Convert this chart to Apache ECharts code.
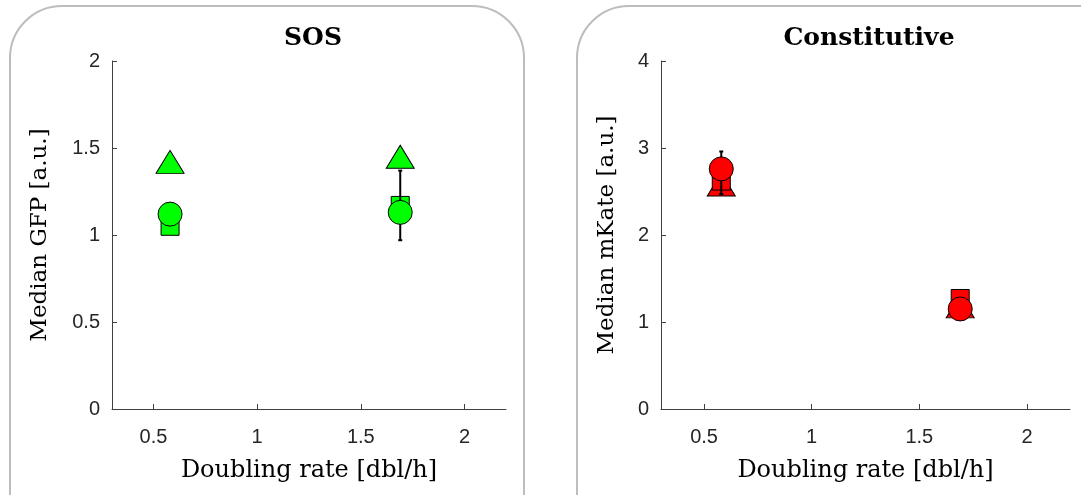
<!DOCTYPE html>
<html><head><meta charset="utf-8">
<script src="https://cdn.jsdelivr.net/npm/echarts@6/dist/echarts.min.js"></script>
<style>html,body{margin:0;padding:0;background:#fff}#c{width:1081px;height:495px}</style>
</head><body><div id="c"></div>
<script>
// ---- data ----
const rates = [0.58, 1.69];
const sosTriangle = [1.42, 1.45];
const sosSquare = [1.05, 1.17];
const sosCircle = [1.12, 1.13];
const sosErrX = [1.69];
const sosErrLow = [0.97];
const sosErrHigh = [1.37];

const constTriangle = [2.58, 1.18];
const constSquare = [2.62, 1.27];
const constCircle = [2.76, 1.15];
const constErrX = [0.58];
const constErrLow = [2.47];
const constErrHigh = [2.96];

const xTicks = [0.5, 1, 1.5, 2];
const titles = ['SOS', 'Constitutive'];
const yNames = ['Median GFP [a.u.]', 'Median mKate [a.u.]'];
const xName = 'Doubling rate [dbl/h]';

// ---- chart ----
const chart = echarts.init(document.getElementById('c'));
const serif = '"DejaVu Serif", "Liberation Serif", serif';
const sans = '"Liberation Sans", Arial, sans-serif';
const axisCol = '#404040';
const txtCol = '#262626';

function xAxis(gi){
  return {
    gridIndex: gi, type: 'value', min: 0.3, max: 2.2, interval: 0.1,
    name: xName, nameLocation: 'middle', nameGap: 50,
    nameTextStyle: {fontFamily: serif, fontSize: 24, color: '#000'},
    axisLine: {onZero: false, lineStyle: {color: axisCol, width: 1}},
    axisTick: {inside: true, length: 5, lineStyle: {color: axisCol},
      customValues: xTicks},
    axisLabel: {fontFamily: sans, fontSize: 20, color: txtCol, margin: 18,
      customValues: xTicks, formatter: v => String(v)},
    splitLine: {show: false}
  };
}
function yAxis(gi, max, interval, gap){
  return {
    gridIndex: gi, type: 'value', min: 0, max: max, interval: interval,
    name: yNames[gi], nameLocation: 'middle', nameGap: gap,
    nameTextStyle: {fontFamily: serif, fontSize: 23, color: '#000'},
    axisLine: {show: true, lineStyle: {color: axisCol, width: 1}},
    axisTick: {show: true, inside: true, length: 5, lineStyle: {color: axisCol}},
    axisLabel: {fontFamily: sans, fontSize: 20, color: txtCol, margin: 12,
      formatter: v => String(v)},
    splitLine: {show: false}
  };
}
function pts(ys){ return rates.map((x, i) => [x, ys[i]]); }
function scatter(gi, name, ys, symbol, size, color, z){
  return {
    type: 'scatter', name: name, xAxisIndex: gi, yAxisIndex: gi,
    data: pts(ys), symbol: symbol, symbolSize: size, z: z,
    itemStyle: {color: color, borderColor: '#000', borderWidth: 1, opacity: 1},
    emphasis: {disabled: true}
  };
}
function errSeries(gi, xs, lo, hi, z){
  return {
    type: 'custom', xAxisIndex: gi, yAxisIndex: gi, z: z,
    data: xs.map((x, i) => [x, lo[i], hi[i]]),
    renderItem: function(params, api){
      const a = api.coord([api.value(0), api.value(1)]);
      const b = api.coord([api.value(0), api.value(2)]);
      const cw = 2;
      const st = {stroke: '#000', lineWidth: 2};
      return {type: 'group', children: [
        {type: 'line', shape: {x1: a[0], y1: a[1], x2: b[0], y2: b[1]}, style: st},
        {type: 'line', shape: {x1: a[0]-cw, y1: a[1], x2: a[0]+cw, y2: a[1]}, style: st},
        {type: 'line', shape: {x1: b[0]-cw, y1: b[1], x2: b[0]+cw, y2: b[1]}, style: st}
      ]};
    }
  };
}

const green = '#00ff00', red = '#ff0000';
const option = {
  animation: false,
  backgroundColor: '#fff',
  graphic: [
    {type: 'rect', z: -10, shape: {x: 10, y: 6, width: 514, height: 560, r: 52},
     style: {fill: '#fff', stroke: '#bdbdbd', lineWidth: 2}},
    {type: 'rect', z: -10, shape: {x: 577, y: 6, width: 560, height: 560, r: 52},
     style: {fill: '#fff', stroke: '#bdbdbd', lineWidth: 2}}
  ],
  title: [
    {text: titles[0], left: 308, top: 21, textAlign: 'center',
     textStyle: {fontFamily: serif, fontWeight: 'bold', fontSize: 25, color: '#000'}},
    {text: titles[1], left: 864, top: 21, textAlign: 'center',
     textStyle: {fontFamily: serif, fontWeight: 'bold', fontSize: 25, color: '#000'}}
  ],
  grid: [
    {left: 112, top: 61, width: 394, height: 348},
    {left: 661, top: 61, width: 409, height: 348}
  ],
  xAxis: [xAxis(0), xAxis(1)],
  yAxis: [yAxis(0, 2, 0.5, 60), yAxis(1, 4, 1, 42)],
  series: [
    scatter(0, 'tri', sosTriangle, 'triangle', [28, 23], green, 2),
    scatter(0, 'sq', sosSquare, 'rect', [18, 18], green, 3),
    errSeries(0, sosErrX, sosErrLow, sosErrHigh, 4),
    scatter(0, 'circ', sosCircle, 'circle', 24, green, 5),
    scatter(1, 'tri', constTriangle, 'triangle', [28, 23], red, 2),
    scatter(1, 'sq', constSquare, 'rect', [18, 18], red, 3),
    errSeries(1, constErrX, constErrLow, constErrHigh, 4),
    scatter(1, 'circ', constCircle, 'circle', 24, red, 5)
  ]
};
chart.setOption(option);
</script></body></html>
